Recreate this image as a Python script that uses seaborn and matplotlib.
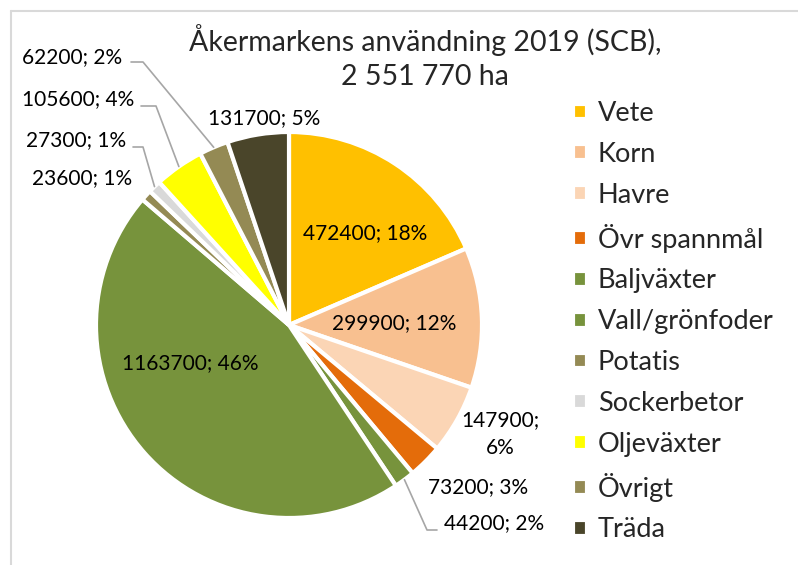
import matplotlib
matplotlib.use("Agg")
import matplotlib.pyplot as plt
import numpy as np
import seaborn as sns
from matplotlib.lines import Line2D

# data
crops = ["Vete", "Korn", "Havre", "Övr spannmål", "Baljväxter", "Vall/grönfoder",
         "Potatis", "Sockerbetor", "Oljeväxter", "Övrigt", "Träda"]
hectares = [472400, 299900, 147900, 73200, 44200, 1163700,
            23600, 27300, 105600, 62200, 131700]
percent = [18, 12, 6, 3, 2, 46, 1, 1, 4, 2, 5]
colors = ["#FFC000", "#F8C090", "#FBD5B5", "#E46C0A", "#77933C", "#77933C",
          "#948A54", "#D9D9D9", "#FFFF00", "#948A54", "#4A452A"]

title = "Åkermarkens användning 2019 (SCB),\n2 551 770 ha"

sns.set_theme(style="white")
plt.rcParams["font.family"] = ["Lato", "DejaVu Sans"]

W, H = 798, 565
fig = plt.figure(figsize=(W / 100, H / 100), dpi=100)
ax = fig.add_axes([0, 0, 1, 1])

cx, cy, R = 289, H - 325, 193
wedges, _ = ax.pie(hectares, colors=colors, startangle=90, counterclock=False,
                   center=(cx, cy), radius=R, frame=True,
                   wedgeprops=dict(edgecolor="white", linewidth=3))
ax.set_xlim(0, W)
ax.set_ylim(0, H)
ax.axis("off")

# label layout (pixel coords, y measured from top) and leader elbows
label_pos = [(365, 233), (394, 323), (500, 434), (478, 487), (494, 523),
             (190, 363), (82, 178), (76, 140), (78, 99), (72, 57), (264, 118)]
leaders = {4: [(427, 530), (437, 530)],
           7: [(143, 147), (133, 147)],
           8: [(156, 106), (141, 106)],
           9: [(143, 62), (131, 62)]}

for i, w in enumerate(wedges):
    txt = f"{hectares[i]}; {percent[i]}%"
    if crops[i] == "Havre":
        txt = f"{hectares[i]};\n{percent[i]}%"
    x, y = label_pos[i]
    ax.text(x, H - y, txt, ha="center", va="center", fontsize=15,
            color="black", linespacing=1.45)
    if i in leaders:
        ang = np.deg2rad((w.theta1 + w.theta2) / 2)
        xs = [cx + R * np.cos(ang)] + [p[0] for p in leaders[i]]
        ys = [cy + R * np.sin(ang)] + [H - p[1] for p in leaders[i]]
        ax.plot(xs, ys, color="#A6A6A6", lw=1.2)

fig.text(425 / W, 1 - 57 / H, title, ha="center", va="center", fontsize=20.5,
         linespacing=1.4)

ax.legend(wedges, crops, loc="upper left", bbox_to_anchor=(573 / W, 1 - 101 / H),
          bbox_transform=fig.transFigure, frameon=False, fontsize=19.5,
          handlelength=0.52, handleheight=0.52, handletextpad=0.4,
          labelspacing=0.585, borderaxespad=0, borderpad=0)

# thin grey chart border on the left and top
fig.add_artist(Line2D([11 / W, 11 / W], [0, 1 - 11 / H], color="#D9D9D9", lw=1.5,
                      transform=fig.transFigure))
fig.add_artist(Line2D([11 / W, 1], [1 - 11 / H, 1 - 11 / H], color="#D9D9D9", lw=1.5,
                      transform=fig.transFigure))

fig.savefig("out.png", dpi=100)
